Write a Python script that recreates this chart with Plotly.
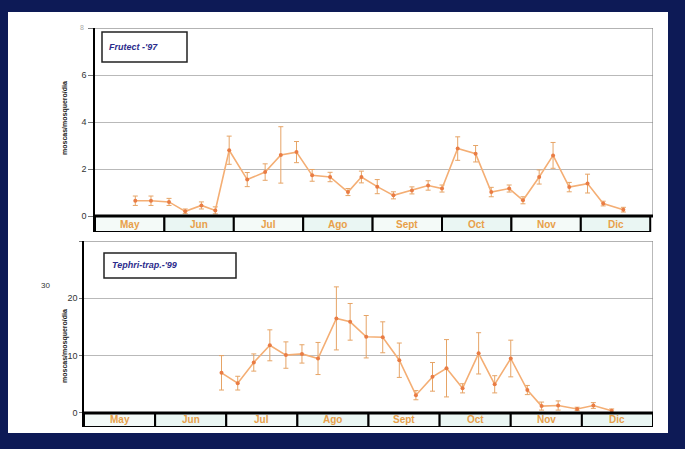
import calendar
import plotly.graph_objects as go

# Month strip under each panel
months = ["May", "Jun", "Jul", "Ago", "Sept", "Oct", "Nov", "Dic"]
first_month = 5

# Frutect trap, 1997 season: sampling date, mean flies/trap/day, error
frutect_dates = ["1997-05-19", "1997-05-26", "1997-06-03", "1997-06-10", "1997-06-17",
                 "1997-06-23", "1997-06-29", "1997-07-07", "1997-07-15", "1997-07-22",
                 "1997-07-29", "1997-08-05", "1997-08-13", "1997-08-21", "1997-08-27",
                 "1997-09-03", "1997-09-10", "1997-09-18", "1997-09-25", "1997-10-01",
                 "1997-10-08", "1997-10-16", "1997-10-23", "1997-10-31", "1997-11-06",
                 "1997-11-13", "1997-11-19", "1997-11-26", "1997-12-04", "1997-12-11",
                 "1997-12-20"]
frutect_vals = [0.65, 0.65, 0.6, 0.2, 0.45, 0.24, 2.8, 1.55, 1.87, 2.6,
                2.72, 1.73, 1.66, 1.02, 1.66, 1.25, 0.88, 1.09, 1.3, 1.17,
                2.87, 2.65, 1.02, 1.17, 0.67, 1.66, 2.58, 1.23, 1.38, 0.53,
                0.27]
frutect_err = [0.2, 0.2, 0.15, 0.1, 0.15, 0.15, 0.6, 0.3, 0.35, 1.2,
               0.45, 0.25, 0.2, 0.15, 0.25, 0.3, 0.15, 0.15, 0.2, 0.15,
               0.5, 0.35, 0.2, 0.15, 0.15, 0.3, 0.55, 0.2, 0.4, 0.1,
               0.1]

# Tephri-trap, 1999 season
tephri_dates = ["1999-06-29", "1999-07-06", "1999-07-13", "1999-07-20", "1999-07-27",
                "1999-08-03", "1999-08-10", "1999-08-18", "1999-08-24", "1999-08-31",
                "1999-09-07", "1999-09-14", "1999-09-21", "1999-09-28", "1999-10-04",
                "1999-10-11", "1999-10-18", "1999-10-25", "1999-11-01", "1999-11-08",
                "1999-11-14", "1999-11-21", "1999-11-29", "1999-12-06", "1999-12-14"]
tephri_vals = [7.0, 5.2, 8.8, 11.8, 10.1, 10.3, 9.5, 16.5, 15.9, 13.3,
               13.2, 9.2, 3.1, 6.3, 7.8, 4.3, 10.4, 5.0, 9.5, 4.0,
               1.2, 1.3, 0.7, 1.3, 0.4]
tephri_err = [3.0, 1.2, 1.5, 2.7, 2.3, 1.6, 2.8, 5.5, 3.2, 3.7,
              2.7, 3.0, 0.8, 2.5, 5.0, 0.8, 3.6, 1.5, 3.2, 0.8,
              0.7, 0.8, 0.3, 0.5, 0.3]

top_ticks = [0, 2, 4, 6, 8]
bottom_ticks = [0, 10, 20, 30]
y_title = "moscas/mosquero/dia"

W, H = 685, 449


def month_pos(d):
    """Position of a date on a month axis where every month is one unit wide."""
    y, m, dd = map(int, d.split("-"))
    ndays = calendar.monthrange(y, m)[1]
    return (m - first_month) + (dd - 1) / ndays


def px(x):
    return x / W


def py(y):
    return 1 - y / H


LINE = "#f4ae74"
MARK = "#e97c44"
ERR = "#e6a466"
GRID = "#b9b9b9"
MONTH_TXT = "#e8a04a"
LABEL_TXT = "#2c2c8c"
FONT = "Liberation Sans"

fig = go.Figure()
fig.add_trace(go.Scatter(
    x=[month_pos(d) for d in frutect_dates], y=frutect_vals,
    mode="lines+markers",
    line=dict(color=LINE, width=1.6),
    marker=dict(size=4, color=MARK),
    error_y=dict(type="data", array=frutect_err, color=ERR, thickness=1, width=2.5),
    xaxis="x", yaxis="y", showlegend=False,
))
fig.add_trace(go.Scatter(
    x=[month_pos(d) for d in tephri_dates], y=tephri_vals,
    mode="lines+markers",
    line=dict(color=LINE, width=1.6),
    marker=dict(size=4, color=MARK),
    error_y=dict(type="data", array=tephri_err, color=ERR, thickness=1, width=2.5),
    xaxis="x2", yaxis="y2", showlegend=False,
))

top_low = -0.68
bot_low = -2.45

shapes = [
    # white panel inside the dark frame
    dict(type="rect", xref="paper", yref="paper", x0=px(8), x1=px(668), y0=py(433), y1=py(12),
         fillcolor="white", line=dict(width=0), layer="below"),
]
annotations = []

for xa, ya, low, xmax, top_val in [("x", "y", top_low, 8.04, top_ticks[-1]),
                                   ("x2", "y2", bot_low, 8.0, bottom_ticks[-1])]:
    # gray frame on the top and right, thick black base line
    shapes.append(dict(type="line", xref=xa, yref=ya, x0=0, x1=xmax, y0=top_val, y1=top_val,
                       line=dict(color="#9a9a9a", width=1.5), layer="above"))
    shapes.append(dict(type="line", xref=xa, yref=ya, x0=xmax, x1=xmax, y0=0, y1=top_val,
                       line=dict(color="#8a8a8a", width=1.2), layer="above"))
    for i, name in enumerate(months):
        shapes.append(dict(type="rect", xref=xa, yref=ya, x0=i, x1=i + 1, y0=low, y1=0,
                           fillcolor="#eaf6f3" if i % 2 else "#f4faf8",
                           line=dict(color="black", width=2), layer="above"))
        annotations.append(dict(xref=xa, yref=ya, x=i + 0.5, y=low / 2, text="<b>%s</b>" % name,
                                showarrow=False, xanchor="center", yanchor="middle",
                                font=dict(size=10, color=MONTH_TXT, family=FONT)))
    shapes.append(dict(type="line", xref=xa, yref=ya, x0=0, x1=xmax, y0=0, y1=0,
                       line=dict(color="black", width=3), layer="above"))

# series label boxes
shapes.append(dict(type="rect", xref="paper", yref="paper", x0=px(102), x1=px(187),
                   y0=py(62), y1=py(32), line=dict(color="#222", width=1.5), fillcolor="white"))
shapes.append(dict(type="rect", xref="paper", yref="paper", x0=px(104), x1=px(236),
                   y0=py(278), y1=py(253), line=dict(color="#222", width=1.5), fillcolor="white"))
annotations += [
    dict(xref="paper", yref="paper", x=px(107), y=py(47), xanchor="left", yanchor="middle",
         text="<b><i>Frutect -'97</i></b>", showarrow=False,
         font=dict(size=9, color=LABEL_TXT, family=FONT)),
    dict(xref="paper", yref="paper", x=px(110), y=py(265), xanchor="left", yanchor="middle",
         text="<b><i>Tephri-trap.-'99</i></b>", showarrow=False,
         font=dict(size=9, color=LABEL_TXT, family=FONT)),
    dict(xref="paper", yref="paper", x=px(65), y=py(118), xanchor="center", yanchor="middle",
         text="<b>%s</b>" % y_title, textangle=-90, showarrow=False,
         font=dict(size=7, color="#222", family=FONT)),
    dict(xref="paper", yref="paper", x=px(65), y=py(346), xanchor="center", yanchor="middle",
         text="<b>%s</b>" % y_title, textangle=-90, showarrow=False,
         font=dict(size=7, color="#222", family=FONT)),
    dict(xref="paper", yref="paper", x=px(45), y=py(285), xanchor="center", yanchor="middle",
         text=str(bottom_ticks[-1]), showarrow=False,
         font=dict(size=8, color="#333", family=FONT)),
    dict(xref="paper", yref="paper", x=px(82), y=py(27), xanchor="center", yanchor="middle",
         text=str(top_ticks[-1]), showarrow=False,
         font=dict(size=7, color="#aaa", family=FONT)),
]

tick_font = dict(size=9, color="#333", family=FONT)

fig.update_layout(
    width=W, height=H,
    margin=dict(l=0, r=0, t=0, b=0),
    paper_bgcolor="#0d1a56",
    plot_bgcolor="white",
    xaxis=dict(domain=[px(95), px(653)], range=[0, 8.04], showticklabels=False,
               showgrid=False, zeroline=False, showline=False, anchor="y"),
    yaxis=dict(domain=[py(232), py(28)], range=[top_low, 8], tickvals=top_ticks,
               ticktext=[str(t) for t in top_ticks[:-1]] + [""],
               showgrid=True, gridcolor=GRID, gridwidth=1, zeroline=False,
               showline=True, linecolor="black", linewidth=1.5,
               ticks="outside", ticklen=5, tickcolor="#777", tickfont=tick_font,
               anchor="x"),
    xaxis2=dict(domain=[px(84), px(653)], range=[0, 8.0], showticklabels=False,
                showgrid=False, zeroline=False, showline=False, anchor="y2"),
    yaxis2=dict(domain=[py(427), py(241)], range=[bot_low, 30], tickvals=bottom_ticks,
                ticktext=[str(t) for t in bottom_ticks[:-1]] + [""],
                showgrid=True, gridcolor=GRID, gridwidth=1, zeroline=False,
                showline=True, linecolor="black", linewidth=1.5,
                ticks="outside", ticklen=3, tickcolor="#777", tickfont=tick_font,
                anchor="x2"),
    shapes=shapes,
    annotations=annotations,
)

fig.write_html("out.html")
